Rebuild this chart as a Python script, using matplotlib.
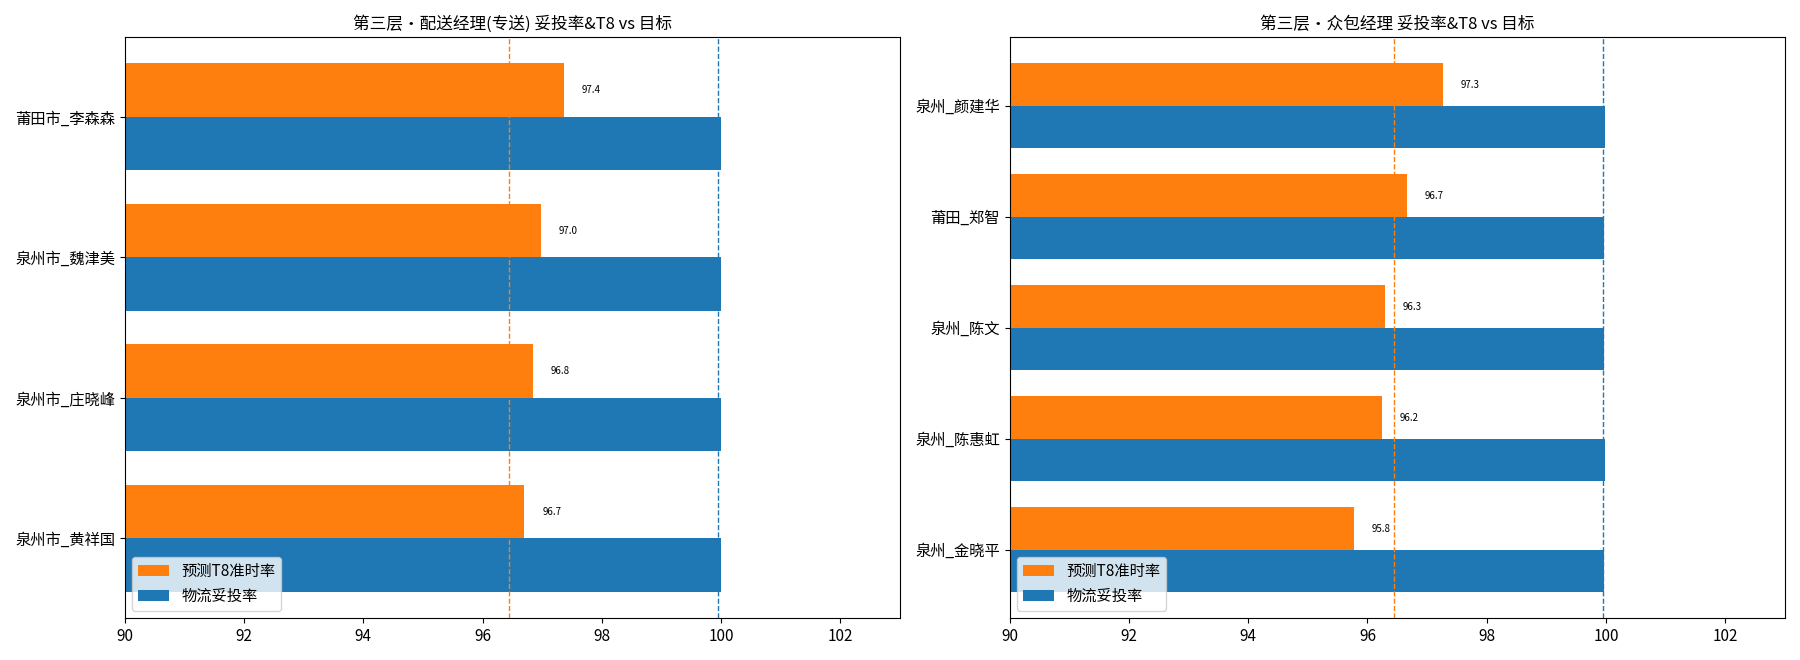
import numpy as np
import matplotlib
matplotlib.use('Agg')
import matplotlib.pyplot as plt

plt.rcParams['font.family'] = ['Noto Sans CJK SC', 'DejaVu Sans']

left_names = ['莆田市_李森森', '泉州市_魏津美', '泉州市_庄晓峰', '泉州市_黄祥国']
left_t8 = [97.36, 96.98, 96.84, 96.70]
left_tt = [99.99, 100.0, 100.0, 100.0]

right_names = ['泉州_颜建华', '莆田_郑智', '泉州_陈文', '泉州_陈惠虹', '泉州_金晓平']
right_t8 = [97.27, 96.66, 96.29, 96.24, 95.77]
right_tt = [99.98, 99.97, 99.97, 99.98, 99.97]

target_t8 = 96.45
target_tt = 99.95

titles = ['第三层·配送经理(专送) 妥投率&T8 vs 目标', '第三层·众包经理 妥投率&T8 vs 目标']

fig, axes = plt.subplots(1, 2, figsize=(18, 6.6), dpi=100)
h = 0.38
for ax, names, t8, tt, title in zip(axes, [left_names, right_names], [left_t8, right_t8],
                                    [left_tt, right_tt], titles):
    y = np.arange(len(names))[::-1]
    ax.barh(y + h / 2, t8, height=h, color='#ff7f0e', label='预测T8准时率')
    ax.barh(y - h / 2, tt, height=h, color='#1f77b4', label='物流妥投率')
    for yi, v in zip(y, t8):
        ax.text(v + 0.3, yi + h / 2, '%.1f' % v, va='center', fontsize=7)
    ax.axvline(target_t8, color='#ff7f0e', ls='--', lw=1)
    ax.axvline(target_tt, color='#1f77b4', ls='--', lw=1)
    ax.set_yticks(y)
    ax.set_yticklabels(names, fontsize=11)
    ax.set_xlim(90, 103)
    ax.tick_params(axis='x', labelsize=11)
    ax.set_title(title, fontsize=12)
    ax.legend(loc='lower left', fontsize=11)

plt.subplots_adjust(left=0.067, right=0.862, top=0.94, bottom=0.18, wspace=0.16)
plt.tight_layout()
fig.savefig('out.png')
